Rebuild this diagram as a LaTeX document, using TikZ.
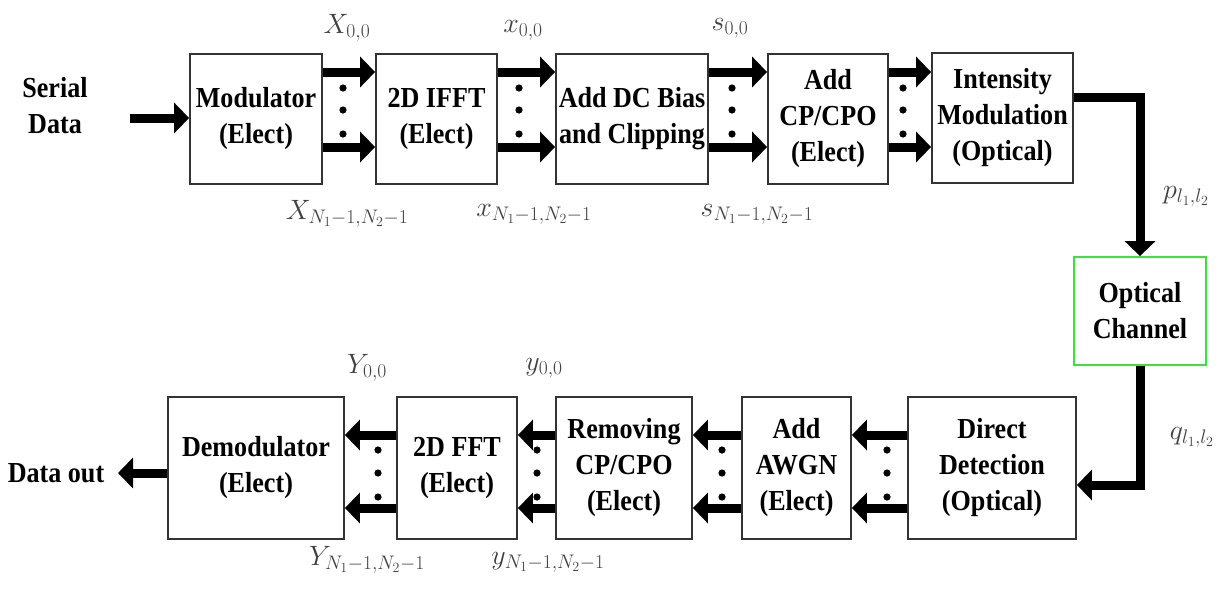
\documentclass[tikz,border=0pt]{standalone}
\usepackage{fix-cm}
\usepackage{fontspec}
\setmainfont{Liberation Serif}[FakeStretch=0.9]
\usetikzlibrary{arrows.meta}
\newcommand\blkfont{\fontsize{29}{36}\selectfont\bfseries}
\newcommand\lblfont{\fontsize{28}{32}\selectfont\color{black!75}}
\begin{document}
\begin{tikzpicture}[x=1pt,y=-1pt,
  blk/.style={draw=black!80, line width=1.8pt, fill=white, align=center, font=\blkfont, inner sep=0pt},
  topblk/.style={blk, minimum height=130pt},
  botblk/.style={blk, minimum height=142pt},
  bus/.style={line width=9pt, -{Triangle[length=15pt,width=30pt]}},
  wire/.style={line width=9pt},
  lbl/.style={font=\lblfont, inner sep=0pt},
  txt/.style={font=\blkfont, align=center, inner sep=0pt},
  dot/.style={fill=black}
]
\path[use as bounding box] (0,0) rectangle (1223,598);

% top row
\node[topblk, minimum width=132pt] (mod) at (256,119) {Modulator\\(Elect)};
\node[topblk, minimum width=121pt] (ifft) at (436.5,119) {2D IFFT\\(Elect)};
\node[topblk, minimum width=152pt] (dc) at (632,119) {Add DC Bias\\and Clipping};
\node[topblk, minimum width=120pt] (cp) at (828,119) {Add\\CP/CPO\\(Elect)};
\node[topblk, minimum width=141pt] (im) at (1002.5,118) {Intensity\\Modulation\\(Optical)};
\node[blk, draw={rgb,255:red,60;green,225;blue,60}, minimum width=132pt, minimum height=108pt] (oc) at (1140,311) {Optical\\Channel};

% bottom row
\node[botblk, minimum width=176pt] (demod) at (256,468) {Demodulator\\(Elect)};
\node[botblk, minimum width=120pt] (fft) at (457,468) {2D FFT\\(Elect)};
\node[botblk, minimum width=136pt] (rem) at (624,468) {Removing\\CP/CPO\\(Elect)};
\node[botblk, minimum width=109pt] (awgn) at (796.5,468) {Add\\AWGN\\(Elect)};
\node[botblk, minimum width=168pt] (dd) at (992,468) {Direct\\Detection\\(Optical)};

% input / output texts
\node[txt] (serial) at (55,106) {Serial\\Data};
\node[txt] (dout) at (56,473) {Data out};
\coordinate (sin) at (130,118);
\coordinate (dend) at (118,473);
\draw[bus] (sin) -- (mod.west |- sin);
\draw[bus] (demod.west |- dend) -- (dend);

% top buses
\foreach \a/\b in {mod/ifft, ifft/dc, dc/cp, cp/im}{
  \draw[bus] (\a.east |- 0,72) -- (\b.west |- 0,72);
  \draw[bus] (\a.east |- 0,147) -- (\b.west |- 0,147);
}
\foreach \x in {343,519,732,903}{
  \foreach \y in {88,110,134}{ \fill[dot] (\x,\y) circle (3.6); }
}

% bottom buses
\foreach \a/\b in {fft/demod, rem/fft, awgn/rem, dd/awgn}{
  \draw[bus] (\a.west |- 0,435) -- (\b.east |- 0,435);
  \draw[bus] (\a.west |- 0,508) -- (\b.east |- 0,508);
}
\foreach \x in {378,537,722,887}{
  \foreach \y in {450,473,497}{ \fill[dot] (\x,\y) circle (3.6); }
}

% optical channel links
\coordinate (imout) at (1142,97);
\draw[bus] (im.east |- imout) -| (oc.north);
\coordinate (ddin) at (1147,485);
\draw[bus] (oc.south) |- (dd.east |- ddin);

% labels
\node[lbl] (lx0) at (347,28) {$X_{0,0}$};
\node[lbl] (lxn) at (347,214) {$X_{N_1-1,N_2-1}$};
\node[lbl] (ls0) at (523,30) {$x_{0,0}$};
\node[lbl] (lsn) at (534,214) {$x_{N_1-1,N_2-1}$};
\node[lbl] (lt0) at (730,28) {$s_{0,0}$};
\node[lbl] (ltn) at (757,214) {$s_{N_1-1,N_2-1}$};
\node[lbl] (lp) at (1186,196) {$p_{l_1,l_2}$};
\node[lbl] (lq) at (1192,437) {$q_{l_1,l_2}$};
\node[lbl] (ly0) at (367,368) {$Y_{0,0}$};
\node[lbl] (lyn) at (367,560) {$Y_{N_1-1,N_2-1}$};
\node[lbl] (lu0) at (544,368) {$y_{0,0}$};
\node[lbl] (lun) at (548,562) {$y_{N_1-1,N_2-1}$};
\end{tikzpicture}
\end{document}
